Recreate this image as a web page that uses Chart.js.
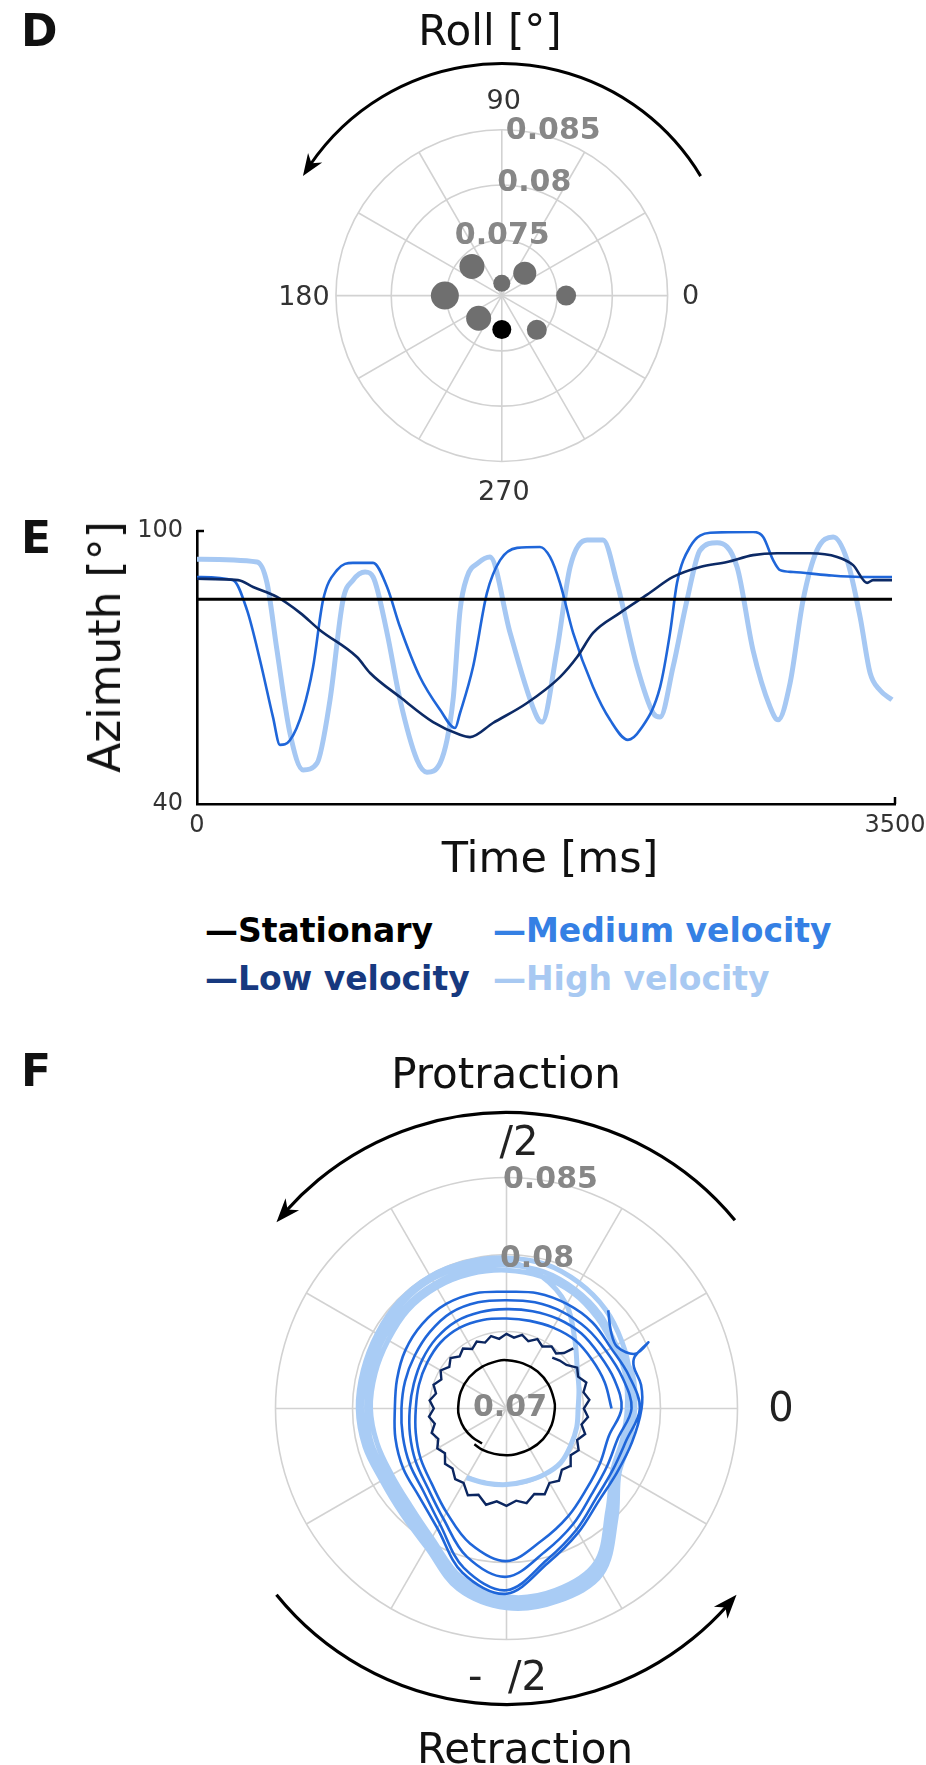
<!DOCTYPE html>
<html>
<head>
<meta charset="utf-8">
<script src="https://cdn.jsdelivr.net/npm/chart.js@4.4.1/dist/chart.umd.min.js"></script>
<style>
html, body { margin: 0; padding: 0; background: #fff; }
body { width: 926px; height: 1765px; position: relative; overflow: hidden; font-family: "DejaVu Sans", sans-serif; }
canvas { position: absolute; left: 0; }
.t { position: absolute; white-space: nowrap; line-height: 1; color: #111; }
.b { font-weight: bold; }
.c { transform: translateX(-50%); }
</style>
</head>
<body>
<canvas id="cD" width="926" height="540" style="top:0px"></canvas>
<canvas id="cE" width="926" height="360" style="top:500px"></canvas>
<canvas id="cF" width="926" height="725" style="top:1040px"></canvas>

<div class="t b" style="left:21px;top:9px;font-size:44px;">D</div>
<div class="t c" style="left:490px;top:9.5px;font-size:42px;">Roll [°]</div>

<div class="t b" style="left:21px;top:516px;font-size:44px;">E</div>
<div class="t" style="left:104.8px;top:647px;font-size:44px;transform:translate(-50%,-50%) rotate(-90deg);">Azimuth [°]</div>
<div class="t c" style="left:550px;top:835.6px;font-size:43px;">Time [ms]</div>

<div class="t b" style="left:205px;top:914px;font-size:33px;color:#000;">—Stationary</div>
<div class="t b" style="left:493px;top:914px;font-size:33px;color:#3580e4;">—Medium velocity</div>
<div class="t b" style="left:205px;top:962px;font-size:33px;color:#17397f;">—Low velocity</div>
<div class="t b" style="left:493px;top:962px;font-size:33px;color:#a8c9f2;">—High velocity</div>

<div class="t b" style="left:21px;top:1049px;font-size:44px;">F</div>
<div class="t c" style="left:506px;top:1052.5px;font-size:42px;">Protraction</div>
<div class="t c" style="left:525px;top:1727.5px;font-size:42px;">Retraction</div>

<script>
// ---------------- DATA ----------------
// Panel D : roll (polar scatter)
const dAngles = [0, 45, 90, 135, 180, 225, 270, 315];
const dRadius = [0.07582, 0.07294, 0.07114, 0.07382, 0.07515, 0.07296, 0.07313, 0.07448];
const dRadialTicks = [0.075, 0.08, 0.085];
const dAngleTicks = [0, 90, 180, 270];
const dAngleTickLabels = ['0', '90', '180', '270'];

// Panel E : azimuth vs time
const eSeriesNames = ['Stationary', 'Low velocity', 'Medium velocity', 'High velocity'];
const eStatTime = [0, 3485];
const eStatAz = [85, 85];
const eLowTime = [0, 206, 281, 401, 517, 617, 802, 868, 1018, 1184, 1319, 1369, 1484, 1655, 1820, 1906, 1986, 2121, 2257, 2387, 2523, 2658, 2788, 2909, 3074, 3210, 3290, 3360, 3390, 3485];
const eLowAz = [89.5, 89.2, 87.7, 85.5, 82, 78.2, 72.3, 68.8, 63.5, 58, 55.2, 54.7, 57.8, 62.2, 67.9, 72.3, 77.6, 82, 86, 89.9, 92.1, 93.2, 94.7, 95.1, 95.1, 94.3, 92.5, 88.6, 89.2, 89.2];
const eMedTime = [0, 181, 251, 316, 381, 416, 466, 532, 582, 632, 702, 782, 883, 953, 1018, 1118, 1219, 1294, 1319, 1384, 1454, 1520, 1605, 1720, 1770, 1820, 1886, 1986, 2071, 2161, 2222, 2322, 2372, 2407, 2472, 2573, 2788, 2839, 2889, 2924, 2989, 3159, 3325, 3485];
const eMedAz = [89.9, 89.2, 82.6, 71.6, 59.1, 53, 54, 60.7, 70.1, 84.8, 91.4, 93, 93, 87.7, 78.9, 67.9, 60.7, 56.7, 60, 70.1, 86.4, 93.6, 96.3, 96.5, 94.3, 88.6, 77.6, 65.7, 58.5, 54.1, 56.3, 65.7, 77.6, 88.6, 96.5, 99.6, 99.8, 98.7, 93.6, 91.4, 91, 90.3, 89.9, 89.9];
const eHighTime = [0, 301, 351, 401, 466, 532, 602, 667, 732, 782, 843, 883, 953, 1018, 1103, 1153, 1219, 1284, 1319, 1354, 1410, 1469, 1570, 1705, 1730, 1805, 1871, 1956, 2036, 2106, 2207, 2287, 2322, 2387, 2457, 2523, 2608, 2708, 2788, 2874, 2914, 2974, 3039, 3109, 3190, 3260, 3325, 3375, 3425, 3485];
const eHighAz = [93.8, 93.2, 88.6, 73.8, 55.6, 47.5, 49, 62.9, 84.8, 89.2, 91, 89.9, 77.6, 62.9, 49.7, 47, 49, 62.9, 82.6, 89.9, 93, 94.3, 77.6, 59.1, 58, 73.8, 92.1, 98, 98, 88.6, 70.1, 60, 59.1, 70.1, 84.8, 95.8, 97.4, 92.1, 73.8, 61.3, 58.5, 66.6, 84.8, 95.8, 98.7, 93.6, 81.1, 68.8, 65, 62.9];
const eTimeTicks = [0, 3500];
const eAzTicks = [40, 100];

// Panel F : phase (polar lines)
const fRadialTicks = [0.07, 0.08, 0.085];
const fAngleTicks = [90, 0, 270];
const fAngleTickLabels = ['/2', '0', '-  /2'];

const fStatTheta = [235, 220, 205, 190, 180, 160, 140, 120, 100, 90, 70, 50, 30, 10, 0, 340, 320, 300, 280, 270, 255, 240, 228];
const fStatR = [0.07277, 0.0729, 0.07303, 0.07312, 0.07314, 0.07316, 0.07316, 0.07314, 0.07314, 0.07314, 0.07312, 0.07314, 0.07314, 0.07314, 0.07314, 0.07312, 0.0731, 0.07305, 0.07303, 0.07303, 0.07305, 0.0731, 0.07312];

const fLowTheta = [42, 44, 48, 54, 60, 66, 72, 78, 84, 90, 96, 102, 108, 114, 120, 126, 132, 138, 144, 150, 156, 162, 168, 174, 180, 186, 192, 198, 204, 210, 216, 222, 228, 234, 240, 246, 252, 258, 264, 270, 276, 282, 288, 294, 300, 306, 312, 318, 324, 330, 336, 342, 348, 354, 0, 6, 12, 18, 24, 30, 36, 42, 48];
const fLowR = [0.07584, 0.07519, 0.07481, 0.07498, 0.07465, 0.07494, 0.07459, 0.07489, 0.07463, 0.07485, 0.07455, 0.07481, 0.0745, 0.07476, 0.07446, 0.07481, 0.07455, 0.07489, 0.07459, 0.07494, 0.07463, 0.07498, 0.07468, 0.07502, 0.07472, 0.07506, 0.07476, 0.07511, 0.07485, 0.07519, 0.07494, 0.07537, 0.07524, 0.07567, 0.07558, 0.07617, 0.07589, 0.07639, 0.07606, 0.07632, 0.07602, 0.07628, 0.07584, 0.0761, 0.07558, 0.0758, 0.07537, 0.07558, 0.07515, 0.07541, 0.07502, 0.07537, 0.07498, 0.07532, 0.07502, 0.07541, 0.07511, 0.07545, 0.07509, 0.0753, 0.07481, 0.07465, 0.07444];

const fMedTheta = [
  0, 15, 30, 45, 60, 75, 90, 105, 120, 135, 150, 165, 180, 195, 210, 225, 240, 255, 270, 285, 300, 315, 330, 345,
  0, 15, 30, 45, 60, 75, 90, 105, 120, 135, 150, 165, 180, 195, 210, 225, 240, 255, 270, 285, 300, 315, 330, 345,
  0, 15, 30, 45, 60, 75, 90, 105, 120, 135, 150, 165, 180, 195, 210, 225, 240, 255, 270, 285, 300, 315, 330, 345,
  0, 15, 30, 45, 60, 75, 90, 105, 120, 135, 150, 165, 180, 195, 210, 225, 240, 255, 270, 285, 300, 315, 330, 345,
  0, 10, 18, 22, 25, 23, 29, 36, 44];
const fMedR = [
  0.07682, 0.0766, 0.07639, 0.07628, 0.07606, 0.07589, 0.07584, 0.07595, 0.07606, 0.07606, 0.07595, 0.07589, 0.07589, 0.0761, 0.07645, 0.07688, 0.07779, 0.07909, 0.07991, 0.07887, 0.07805, 0.07736, 0.07703, 0.07688,
  0.07747, 0.07725, 0.07697, 0.07688, 0.07671, 0.07654, 0.07645, 0.07649, 0.07654, 0.07645, 0.07632, 0.07623, 0.07628, 0.07649, 0.07682, 0.07725, 0.07823, 0.07996, 0.08093, 0.07963, 0.07866, 0.07784, 0.07753, 0.07749,
  0.07812, 0.07779, 0.07747, 0.07736, 0.07725, 0.07714, 0.07703, 0.07714, 0.07719, 0.07703, 0.07688, 0.07682, 0.07682, 0.07697, 0.07725, 0.07762, 0.07866, 0.08071, 0.0818, 0.08017, 0.07909, 0.07823, 0.07797, 0.07805,
  0.07866, 0.07823, 0.07784, 0.0779, 0.07784, 0.07775, 0.07758, 0.07775, 0.07784, 0.07775, 0.07758, 0.07736, 0.07725, 0.07747, 0.07775, 0.07805, 0.07898, 0.08104, 0.08203, 0.08039, 0.07931, 0.07848, 0.07829, 0.07844,
  0.07877, 0.07887, 0.0787, 0.07898, 0.08017, 0.07909, 0.07823, 0.0784, 0.07918];

const fHighTheta = [
  240, 255, 270, 285, 300, 315, 330, 345, 0, 15, 30, 45, 60, 75,
  90, 105, 120, 135, 150, 165, 180, 195, 210, 225, 240, 255, 270, 285, 300, 315, 330, 345, 0, 15,
  30, 45, 60, 75, 90, 105, 120, 135, 150, 165, 180, 195, 210, 225, 240, 255, 270, 285, 300, 315, 330, 345, 0, 15,
  30, 45, 60, 75, 90, 105, 120, 135, 150, 165, 180, 195, 210, 225, 240, 255, 270, 285, 300, 315, 330, 345, 0, 15,
  30, 45, 60, 75, 90, 105, 120, 135, 150, 165, 180, 195, 210, 225, 240, 255, 270, 285, 300, 315, 330, 345, 0, 15, 30];
const fHighR = [
  0.07519, 0.07502, 0.07494, 0.07489, 0.07494, 0.07498, 0.07481, 0.07472, 0.07465, 0.07487, 0.0753, 0.07628, 0.07779, 0.07887,
  0.07957, 0.07963, 0.0797, 0.07963, 0.07948, 0.07942, 0.07942, 0.07931, 0.07913, 0.07942, 0.08017, 0.0818, 0.08277, 0.08273, 0.08223, 0.07985, 0.07833, 0.07812, 0.07818, 0.07833,
  0.07866, 0.07909, 0.07942, 0.0797, 0.07978, 0.07985, 0.07991, 0.07985, 0.0797, 0.07963, 0.07963, 0.07952, 0.07935, 0.07963, 0.08039, 0.08212, 0.08294, 0.08294, 0.08238, 0.08006, 0.07844, 0.07827, 0.07833, 0.07848,
  0.07823, 0.07861, 0.07892, 0.0792, 0.07931, 0.07935, 0.07935, 0.07931, 0.0792, 0.07913, 0.07909, 0.07905, 0.07887, 0.0792, 0.07996, 0.08169, 0.08255, 0.08251, 0.0819, 0.07952, 0.07812, 0.07797, 0.07801, 0.07814,
  0.07805, 0.07833, 0.07866, 0.07887, 0.07898, 0.07905, 0.07909, 0.07905, 0.07887, 0.07883, 0.07883, 0.0787, 0.07861, 0.07887, 0.0797, 0.08136, 0.08223, 0.08223, 0.08158, 0.07931, 0.07797, 0.07779, 0.07784, 0.07801, 0.07823];

// ---------------- HELPERS ----------------
Chart.defaults.font.family = "'DejaVu Sans', sans-serif";
const DEG = Math.PI / 180;
const R_MIN = 0.07, R_MAX = 0.085;

function polarPoints(thetas, radii) {
  return thetas.map((t, i) => {
    const k = (radii[i] - R_MIN) / (R_MAX - R_MIN);
    return { x: k * Math.cos(t * DEG), y: k * Math.sin(t * DEG) };
  });
}
function xyPoints(xs, ys) { return xs.map((x, i) => ({ x: x, y: ys[i] })); }

function arcArrow(ctx, cx, cy, r, a0, a1, lw, hl, hw) {
  const shorten = (hl * 0.6) / r / DEG;
  ctx.lineWidth = lw;
  ctx.beginPath();
  ctx.arc(cx, cy, r, -a0 * DEG, -(a1 - shorten) * DEG, true);
  ctx.stroke();
  const t = a1 * DEG;
  const tipX = cx + r * Math.cos(t), tipY = cy - r * Math.sin(t);
  const tb = (a1 - (hl / r) / DEG * 0.5) * DEG;
  const dx = -Math.sin(tb), dy = -Math.cos(tb);
  const px = -dy, py = dx;
  const bx = tipX - dx * hl, by = tipY - dy * hl;
  ctx.beginPath();
  ctx.moveTo(tipX, tipY);
  ctx.lineTo(bx + px * hw, by + py * hw);
  ctx.lineTo(tipX - dx * hl * 0.7, tipY - dy * hl * 0.7);
  ctx.lineTo(bx - px * hw, by - py * hw);
  ctx.closePath();
  ctx.fill();
}

const polarPlugin = {
  id: 'polar',
  beforeDatasetsDraw(chart, args, o) {
    const ctx = chart.ctx, xs = chart.scales.x, ys = chart.scales.y;
    const cx = xs.getPixelForValue(0), cy = ys.getPixelForValue(0);
    const R = xs.getPixelForValue(1) - cx;
    ctx.save();
    ctx.strokeStyle = o.gridColor;
    ctx.lineWidth = o.gridWidth;
    for (let a = 0; a < 360; a += 30) {
      ctx.beginPath();
      ctx.moveTo(cx, cy);
      ctx.lineTo(cx + R * Math.cos(a * DEG), cy - R * Math.sin(a * DEG));
      ctx.stroke();
    }
    o.rings.forEach(v => {
      const k = (v - R_MIN) / (R_MAX - R_MIN);
      if (k <= 0) return;
      ctx.beginPath();
      ctx.arc(cx, cy, k * R, 0, 2 * Math.PI);
      ctx.stroke();
    });
    ctx.restore();
  },
  afterDatasetsDraw(chart, args, o) {
    const ctx = chart.ctx, xs = chart.scales.x, ys = chart.scales.y;
    const cx = xs.getPixelForValue(0), cy = ys.getPixelForValue(0);
    const R = xs.getPixelForValue(1) - cx;
    ctx.save();
    ctx.font = o.rFont;
    ctx.fillStyle = o.rColor;
    ctx.textBaseline = 'middle';
    o.rTicks.forEach((v, i) => {
      const k = (v - R_MIN) / (R_MAX - R_MIN);
      const s = o.rLabelStyle[i];
      ctx.textAlign = s.align;
      ctx.fillText(String(v), cx + s.dx, cy - k * R + s.dy);
    });
    ctx.font = o.aFont;
    ctx.fillStyle = o.aColor;
    ctx.textAlign = 'center';
    o.aTicks.forEach((a, i) => {
      const s = o.aLabelStyle[i];
      const d = R + s.gap;
      ctx.fillText(o.aLabels[i], cx + d * Math.cos(a * DEG) + s.dx, cy - d * Math.sin(a * DEG) + s.dy);
    });
    ctx.strokeStyle = '#000';
    ctx.fillStyle = '#000';
    o.arrows.forEach(ar => arcArrow(ctx, cx, cy, ar.r, ar.from, ar.to, ar.lw, ar.hl, ar.hw));
    ctx.restore();
  }
};

// ---------------- PANEL D ----------------
(function () {
  const W = 926, H = 540, CX = 503, CY = 297, R = 171;
  new Chart(document.getElementById('cD'), {
    type: 'scatter',
    data: {
      datasets: [{
        label: 'Roll',
        data: polarPoints(dAngles, dRadius),
        pointRadius: [10, 11.5, 8.5, 12.5, 14, 12.5, 9.5, 10],
        pointHoverRadius: [10, 11.5, 8.5, 12.5, 14, 12.5, 9.5, 10],
        backgroundColor: ['#6f6f6f', '#6f6f6f', '#6f6f6f', '#6f6f6f', '#6f6f6f', '#6f6f6f', '#000000', '#6f6f6f'],
        borderWidth: 0,
        clip: false
      }]
    },
    options: {
      responsive: false, animation: false,
      layout: { padding: 0 },
      events: [],
      plugins: {
        legend: { display: false }, tooltip: { enabled: false },
        polar: {
          gridColor: '#d2d2d2', gridWidth: 1.6,
          rings: dRadialTicks,
          rTicks: dRadialTicks,
          rFont: "bold 30px 'DejaVu Sans'", rColor: '#878787',
          rLabelStyle: [{ align: 'center', dx: 0.5, dy: -4 }, { align: 'left', dx: -4.5, dy: -2 }, { align: 'left', dx: 4, dy: 1 }],
          aTicks: dAngleTicks, aLabels: dAngleTickLabels,
          aFont: "27px 'DejaVu Sans'", aColor: '#333',
          aLabelStyle: [{ gap: 23, dx: 0, dy: 1 }, { gap: 28, dx: 2, dy: 0 }, { gap: 32, dx: 0, dy: 2 }, { gap: 32, dx: 2, dy: 0 }],
          arrows: [{ r: 232, from: 31, to: 149, lw: 3, hl: 22, hw: 8.5 }]
        }
      },
      scales: {
        x: { type: 'linear', display: false, min: -CX / R, max: (W - CX) / R },
        y: { type: 'linear', display: false, min: -(H - CY) / R, max: CY / R }
      }
    },
    plugins: [polarPlugin]
  });
})();

// ---------------- PANEL E ----------------
(function () {
  const tickPlugin = {
    id: 'inTicks',
    afterDraw(chart) {
      const ctx = chart.ctx, xs = chart.scales.x, ys = chart.scales.y;
      ctx.save();
      ctx.strokeStyle = '#000'; ctx.lineWidth = 2.5;
      const x0 = xs.getPixelForValue(0), yTop = ys.getPixelForValue(100);
      ctx.beginPath(); ctx.moveTo(x0, yTop); ctx.lineTo(x0 + 7, yTop); ctx.stroke();
      const xR = xs.getPixelForValue(3500), y0 = ys.getPixelForValue(40);
      ctx.beginPath(); ctx.moveTo(xR, y0); ctx.lineTo(xR, y0 - 7); ctx.stroke();
      ctx.restore();
    }
  };
  new Chart(document.getElementById('cE'), {
    type: 'line',
    data: {
      datasets: [
        { label: eSeriesNames[0], data: xyPoints(eStatTime, eStatAz), borderColor: '#000000', borderWidth: 3.2, pointRadius: 0 },
        { label: eSeriesNames[1], data: xyPoints(eLowTime, eLowAz), borderColor: '#0c2a66', borderWidth: 2.6, pointRadius: 0, cubicInterpolationMode: 'monotone' },
        { label: eSeriesNames[2], data: xyPoints(eMedTime, eMedAz), borderColor: '#1f66d9', borderWidth: 2.6, pointRadius: 0, cubicInterpolationMode: 'monotone' },
        { label: eSeriesNames[3], data: xyPoints(eHighTime, eHighAz), borderColor: '#a6c8f3', borderWidth: 5, pointRadius: 0, cubicInterpolationMode: 'monotone' }
      ]
    },
    options: {
      responsive: false, animation: false, events: [],
      layout: { padding: { top: 31, left: 0, right: 0, bottom: 0 } },
      plugins: { legend: { display: false }, tooltip: { enabled: false } },
      scales: {
        x: {
          type: 'linear', min: eTimeTicks[0], max: eTimeTicks[1],
          afterBuildTicks: (s) => { s.ticks = eTimeTicks.map(v => ({ value: v })); },
          ticks: { font: { size: 24 }, color: '#333', padding: 7, maxRotation: 0, autoSkip: false, callback: (v) => String(v) },
          grid: { display: false, drawTicks: false },
          border: { display: true, color: '#000', width: 2.6 },
          afterFit: (s) => { s.height = 56; s.paddingLeft = 0; s.paddingRight = 31; }
        },
        y: {
          type: 'linear', min: eAzTicks[0], max: eAzTicks[1],
          afterBuildTicks: (s) => { s.ticks = eAzTicks.map(v => ({ value: v })); },
          ticks: { font: { size: 24 }, color: '#333', padding: 14, callback: (v) => String(v) },
          grid: { display: false, drawTicks: false },
          border: { display: true, color: '#000', width: 2.6 },
          afterFit: (s) => { s.width = 197; s.paddingTop = 0; s.paddingBottom = 0; }
        }
      }
    },
    plugins: [tickPlugin]
  });
})();

// ---------------- PANEL F ----------------
(function () {
  const W = 926, H = 725, CX = 506.5, CY = 368.5, R = 231;
  const common = { showLine: true, pointRadius: 0, fill: false, clip: false };
  new Chart(document.getElementById('cF'), {
    type: 'scatter',
    data: {
      datasets: [
        Object.assign({ label: 'Stationary', data: polarPoints(fStatTheta, fStatR), borderColor: '#000000', borderWidth: 2.5, tension: 0.4 }, common),
        Object.assign({ label: 'Low velocity', data: polarPoints(fLowTheta, fLowR), borderColor: '#0b2660', borderWidth: 2.4, tension: 0 }, common),
        Object.assign({ label: 'Medium velocity', data: polarPoints(fMedTheta, fMedR), borderColor: '#1f66d9', borderWidth: 2.6, tension: 0.35 }, common),
        Object.assign({ label: 'High velocity', data: polarPoints(fHighTheta, fHighR), borderColor: '#a9ccf5', borderWidth: 5, tension: 0.35 }, common)
      ]
    },
    options: {
      responsive: false, animation: false, events: [],
      layout: { padding: 0 },
      plugins: {
        legend: { display: false }, tooltip: { enabled: false },
        polar: {
          gridColor: '#d2d2d2', gridWidth: 1.6,
          rings: [0.075, 0.08, 0.085],
          rTicks: fRadialTicks,
          rFont: "bold 30px 'DejaVu Sans'", rColor: '#878787',
          rLabelStyle: [{ align: 'center', dx: 3.5, dy: 0 }, { align: 'left', dx: -6.5, dy: 5 }, { align: 'left', dx: -3.5, dy: 3 }],
          aTicks: fAngleTicks, aLabels: fAngleTickLabels,
          aFont: "40px 'DejaVu Sans'", aColor: '#222',
          aLabelStyle: [{ gap: 32.5, dx: 12.5, dy: 0 }, { gap: 43.5, dx: 0, dy: 2 }, { gap: 40.5, dx: 1, dy: 0 }],
          arrows: [
            { r: 296, from: 39.5, to: 141, lw: 3.2, hl: 24, hw: 9 },
            { r: 296, from: 219, to: 321, lw: 3.2, hl: 24, hw: 9 }
          ]
        }
      },
      scales: {
        x: { type: 'linear', display: false, min: -CX / R, max: (W - CX) / R },
        y: { type: 'linear', display: false, min: -(H - CY) / R, max: CY / R }
      }
    },
    plugins: [polarPlugin]
  });
})();
</script>
</body>
</html>
